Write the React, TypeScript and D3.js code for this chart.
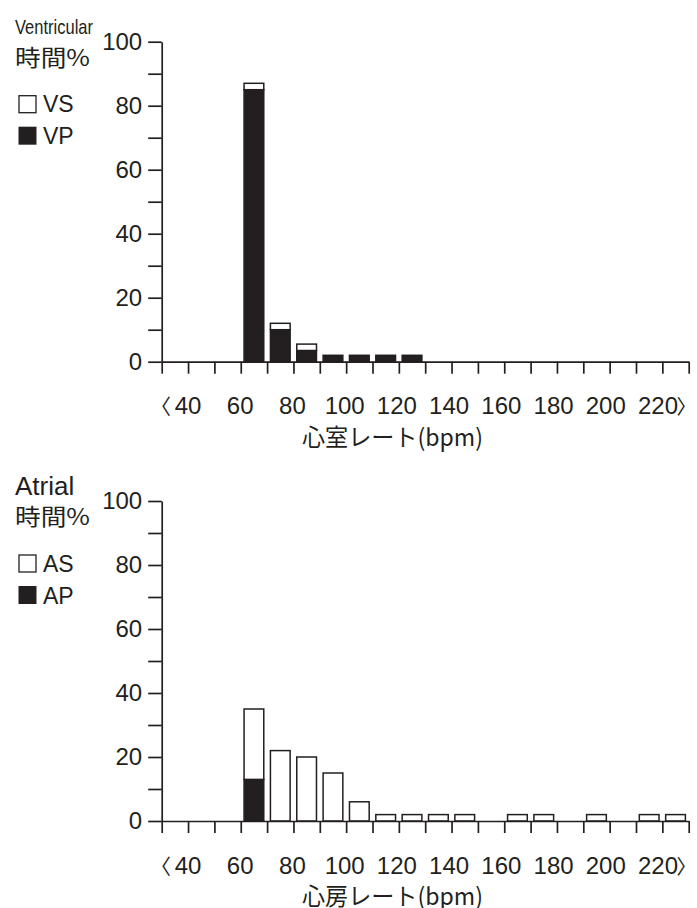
import React, { useEffect, useRef } from 'react';
import * as d3 from 'd3';

// lower edge of each 10 bpm bin (first is "<40", last is ">220")
const binStarts = [30, 40, 50, 60, 70, 80, 90, 100, 110, 120, 130, 140, 150, 160, 170, 180, 190, 200, 210, 220];
const xTickValues = [30, 40, 50, 60, 70, 80, 90, 100, 110, 120, 130, 140, 150, 160, 170, 180, 190, 200, 210, 220, 230];
const xLabels = [40, 60, 80, 100, 120, 140, 160, 180, 200, 220];
const yTickValues = [0, 10, 20, 30, 40, 50, 60, 70, 80, 90, 100];

// ventricular: paced (VP, black) and sensed (VS, white) % time
const vpValues = [0, 0, 0, 85, 10, 3.5, 2, 2, 2, 2, 0, 0, 0, 0, 0, 0, 0, 0, 0, 0];
const vsValues = [0, 0, 0, 2, 2, 2, 0, 0, 0, 0, 0, 0, 0, 0, 0, 0, 0, 0, 0, 0];

// atrial: paced (AP, black) and sensed (AS, white) % time
const apValues = [0, 0, 0, 13, 0, 0, 0, 0, 0, 0, 0, 0, 0, 0, 0, 0, 0, 0, 0, 0];
const asValues = [0, 0, 0, 22, 22, 20, 15, 6, 2, 2, 2, 2, 0, 2, 2, 0, 2, 0, 2, 2];

const INK = '#231f20';
const LATIN = '"Liberation Sans", Arial, sans-serif';
const CJK = '"Noto Sans CJK JP", sans-serif';
const LEFT = 161.7, RIGHT = 688.7, PH = 320;

function drawChart(root, cfg) {
  const { top, head, headSize, headLength, headY, pacedName, sensedName, paced, sensed, title } = cfg;
  const g = root.append('g');

  const x = d3.scaleLinear().domain([30, 230]).range([LEFT, RIGHT]);
  const band = d3.scaleBand()
    .domain(binStarts.map(String))
    .range([LEFT, RIGHT])
    .paddingInner(0.252)
    .paddingOuter(0.126);
  const y = d3.scaleLinear().domain([0, 100]).range([top + PH, top]);
  const labelX = d3.scaleLinear().domain([40, 220]).range([188, 658]);

  const rows = binStarts.map((b, i) => ({ bin: String(b), paced: paced[i], sensed: sensed[i] }));
  const stacked = d3.stack().keys(['paced', 'sensed'])(rows);

  stacked.forEach((layer) => {
    g.append('g')
      .selectAll('rect')
      .data(layer.filter((d) => d[1] - d[0] > 0))
      .enter()
      .append('rect')
      .attr('x', (d) => band(d.data.bin))
      .attr('width', band.bandwidth())
      .attr('y', (d) => y(d[1]))
      .attr('height', (d) => y(d[0]) - y(d[1]))
      .attr('fill', layer.key === 'paced' ? INK : '#fff')
      .attr('stroke', INK)
      .attr('stroke-width', 1.5);
  });

  // x axis
  const xa = g.append('g')
    .attr('transform', `translate(0,${top + PH})`)
    .call(d3.axisBottom(x).tickValues(xTickValues).tickSize(12).tickSizeOuter(0).tickFormat(() => ''));
  xa.selectAll('path,line').attr('stroke', INK).attr('stroke-width', 1.7);

  // y axis
  const ya = g.append('g')
    .attr('transform', `translate(${LEFT},0)`)
    .call(d3.axisLeft(y).tickValues(yTickValues).tickSize(13.5).tickSizeOuter(0).tickPadding(6)
      .tickFormat((d) => (d % 20 === 0 ? String(d) : '')));
  ya.selectAll('path,line').attr('stroke', INK).attr('stroke-width', 1.7);
  ya.selectAll('text').attr('font-family', LATIN).attr('font-size', 24).attr('fill', INK);

  // x labels
  const ly = top + PH + 52.5;
  g.append('g')
    .selectAll('text')
    .data(xLabels)
    .enter()
    .append('text')
    .attr('x', (d) => labelX(d))
    .attr('y', ly)
    .attr('text-anchor', 'middle')
    .attr('font-family', LATIN)
    .attr('font-size', 24)
    .attr('fill', INK)
    .text((d) => String(d));
  g.append('text')
    .attr('x', labelX(40) - 17)
    .attr('y', ly)
    .attr('text-anchor', 'end')
    .attr('font-family', CJK)
    .attr('font-size', 21)
    .attr('fill', INK)
    .text('〈');
  g.append('text')
    .attr('x', 676.5)
    .attr('y', ly)
    .attr('font-family', CJK)
    .attr('font-size', 20)
    .attr('fill', INK)
    .text('〉');

  // axis title
  g.append('text')
    .attr('x', 302)
    .attr('y', top + PH + 84)
    .attr('font-family', CJK)
    .attr('font-size', 24)
    .attr('textLength', 181)
    .attr('lengthAdjust', 'spacingAndGlyphs')
    .attr('fill', INK)
    .text(title);

  // heading + legend
  const h = g.append('text')
    .attr('x', 15)
    .attr('y', top + headY)
    .attr('font-family', LATIN)
    .attr('font-size', headSize)
    .attr('fill', INK)
    .text(head);
  if (headLength) h.attr('textLength', headLength).attr('lengthAdjust', 'spacingAndGlyphs');

  g.append('text')
    .attr('x', 15)
    .attr('y', top + 24)
    .attr('font-family', CJK)
    .attr('font-size', 23)
    .attr('textLength', 75)
    .attr('lengthAdjust', 'spacingAndGlyphs')
    .attr('fill', INK)
    .text('時間%');

  g.append('rect').attr('x', 19).attr('y', top + 54).attr('width', 17).attr('height', 17)
    .attr('fill', '#fff').attr('stroke', INK).attr('stroke-width', 1.3);
  g.append('text').attr('x', 43).attr('y', top + 70.5).attr('font-family', LATIN)
    .attr('font-size', 23).attr('fill', INK).text(sensedName);
  g.append('rect').attr('x', 18.5).attr('y', top + 85).attr('width', 18).attr('height', 18)
    .attr('fill', INK);
  g.append('text').attr('x', 43).attr('y', top + 102.5).attr('font-family', LATIN)
    .attr('font-size', 23).attr('fill', INK).text(pacedName);
}

export default function App() {
  const ref = useRef(null);

  useEffect(() => {
    const svg = d3.select(ref.current);
    svg.selectAll('*').remove();
    svg.append('rect').attr('width', 697).attr('height', 908).attr('fill', '#fff');
    drawChart(svg, {
      top: 41.7, head: 'Ventricular', headSize: 21, headLength: 78, headY: -7.4,
      pacedName: 'VP', sensedName: 'VS', paced: vpValues, sensed: vsValues, title: '心室レート(bpm)',
    });
    drawChart(svg, {
      top: 501, head: 'Atrial', headSize: 26, headLength: 0, headY: -6,
      pacedName: 'AP', sensedName: 'AS', paced: apValues, sensed: asValues, title: '心房レート(bpm)',
    });
  }, []);

  return (
    <svg ref={ref} width={697} height={908} style={{ position: 'absolute', left: 0, top: 0 }} />
  );
}
